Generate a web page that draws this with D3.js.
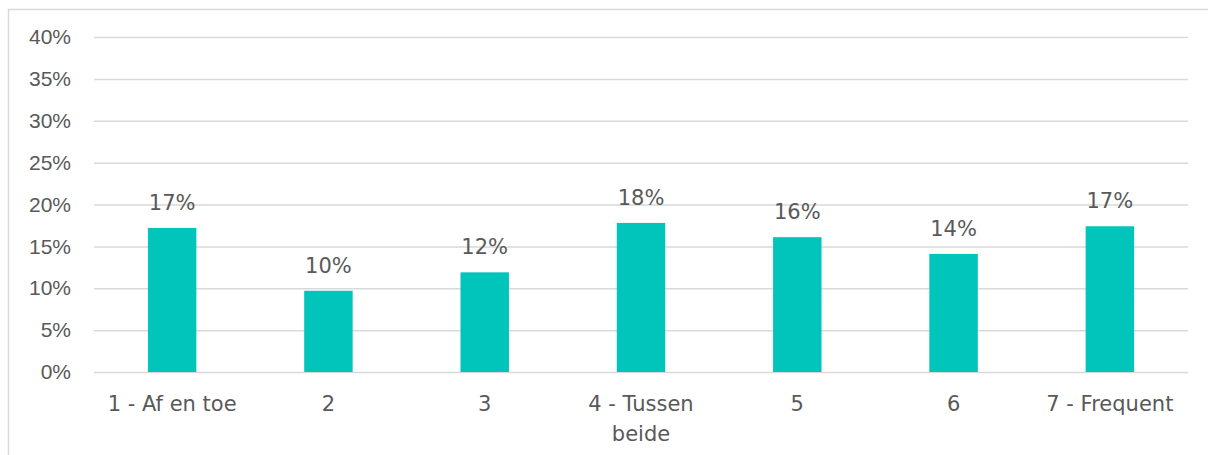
<!DOCTYPE html>
<html>
<head>
<meta charset="utf-8">
<script src="https://cdn.jsdelivr.net/npm/d3@7"></script>
<style>
  body { margin: 0; background: #fff; }
  svg { display: block; font-family: "DejaVu Sans", sans-serif; }
</style>
</head>
<body>
<svg id="chart"></svg>
<script>
const categories = ['1 - Af en toe', '2', '3', '4 - Tussen\nbeide', '5', '6', '7 - Frequent']
const values = [0.172, 0.097, 0.119, 0.178, 0.161, 0.141, 0.174]
const yTicks = [0, 0.05, 0.10, 0.15, 0.20, 0.25, 0.30, 0.35, 0.40]

const width = 1208
const height = 455
const plotLeft = 94
const plotRight = 1188
const plotTop = 37
const plotBottom = 372
const textColor = '#595959'
const fontSize = '21px'

const svg = d3.select('#chart')
    .attr('width', width)
    .attr('height', height)

// chart frame
svg.append('path')
    .attr('d', `M8.5,${height} V9.5 H${width}`)
    .attr('fill', 'none')
    .attr('stroke', '#d9d9d9')
    .attr('stroke-width', 1.5)

const x = d3.scaleBand()
    .domain(categories)
    .range([plotLeft, plotRight])
    .paddingInner(0.69)
    .paddingOuter(0.345)

const y = d3.scaleLinear()
    .domain([0, 0.4])
    .range([plotBottom, plotTop])

// gridlines + y labels
const yAxis = d3.axisLeft(y)
    .tickValues(yTicks)
    .tickFormat(d3.format('.0%'))
    .tickSize(-(plotRight - plotLeft))
    .tickPadding(23)

const gy = svg.append('g')
    .attr('transform', `translate(${plotLeft}, 0)`)
    .call(yAxis)
gy.select('.domain').remove()
gy.selectAll('.tick line')
    .attr('stroke', '#d9d9d9')
    .attr('stroke-width', 1.5)
gy.selectAll('.tick text')
    .attr('fill', textColor)
    .style('font-size', fontSize)

// bars
svg.selectAll('.bar')
    .data(values)
    .enter()
    .append('rect')
    .attr('class', 'bar')
    .attr('x', (d, i) => x(categories[i]))
    .attr('y', d => y(d))
    .attr('width', x.bandwidth())
    .attr('height', d => y(0) - y(d))
    .attr('fill', '#01c5bb')

// value labels
svg.selectAll('.val')
    .data(values)
    .enter()
    .append('text')
    .attr('class', 'val')
    .attr('x', (d, i) => x(categories[i]) + x.bandwidth() / 2)
    .attr('y', d => y(d) - 18)
    .attr('text-anchor', 'middle')
    .attr('fill', textColor)
    .style('font-size', fontSize)
    .text(d => d3.format('.0%')(d))

// category labels
const cat = svg.selectAll('.cat')
    .data(categories)
    .enter()
    .append('text')
    .attr('class', 'cat')
    .attr('text-anchor', 'middle')
    .attr('fill', textColor)
    .style('font-size', fontSize)
cat.each(function (d) {
    const t = d3.select(this)
    d.split('\n').forEach((line, i) => {
        t.append('tspan')
            .attr('x', x(d) + x.bandwidth() / 2)
            .attr('y', 411 + i * 30)
            .text(line)
    })
})
</script>
</body>
</html>
